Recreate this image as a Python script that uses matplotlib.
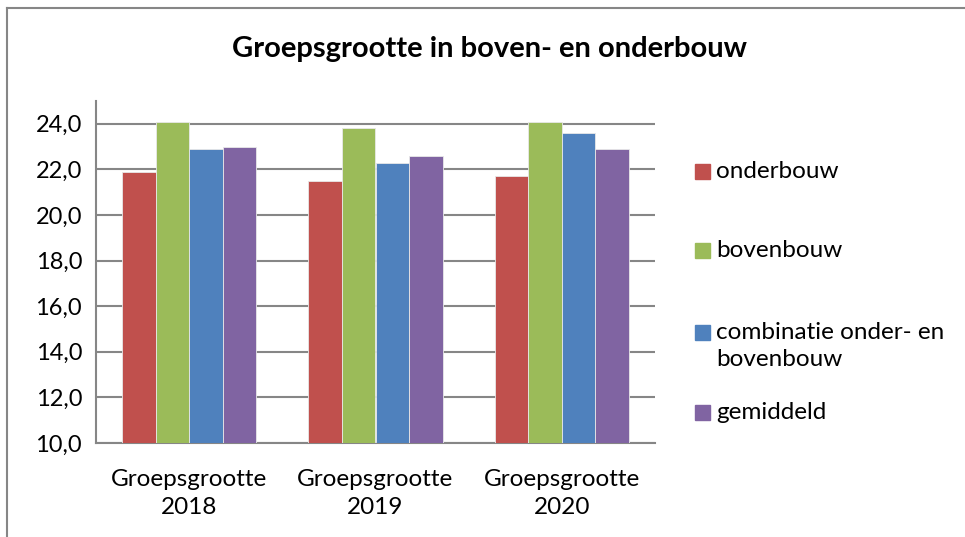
import matplotlib
matplotlib.use("Agg")
import matplotlib.pyplot as plt
from matplotlib.lines import Line2D
from matplotlib.patches import Rectangle
import numpy as np

# data
categories = ["Groepsgrootte\n2018", "Groepsgrootte\n2019", "Groepsgrootte\n2020"]
series_names = ["onderbouw", "bovenbouw", "combinatie onder- en\nbovenbouw", "gemiddeld"]
onderbouw = [21.9, 21.5, 21.7]
bovenbouw = [24.1, 23.8, 24.1]
combinatie = [22.9, 22.3, 23.6]
gemiddeld = [23.0, 22.6, 22.9]
series_values = [onderbouw, bovenbouw, combinatie, gemiddeld]
colors = ["#C0504D", "#9BBB59", "#4F81BD", "#8064A2"]
y_ticks = [10, 12, 14, 16, 18, 20, 22, 24]

plt.rcParams['font.family'] = ['Lato', 'DejaVu Sans']

W, H = 965, 537
fig = plt.figure(figsize=(W / 100, H / 100), dpi=100)
ax = fig.add_axes([96 / W, 1 - 443 / H, (655 - 96) / W, (443 - 101) / H])

x = np.arange(len(categories))
bw = 0.18
for i, (vals, c) in enumerate(zip(series_values, colors)):
    ax.bar(x + (i - 1.5) * bw, vals, width=bw, color=c, edgecolor="#e8e8e8",
           linewidth=0.6, zorder=3)

ax.set_ylim(10, 25)
ax.set_xlim(-0.5, len(categories) - 0.5)
ax.set_yticks(y_ticks)
ax.set_yticklabels([f"{v:.1f}".replace(".", ",") for v in y_ticks], fontsize=17)
ax.set_xticks(x)
ax.set_xticklabels(categories, fontsize=17.5, linespacing=1.4)
ax.tick_params(axis="y", length=0, pad=10)
ax.tick_params(axis="x", length=0, pad=19)
ax.yaxis.grid(True, color="#868686", linewidth=1.5, zorder=0)
for s in ["top", "right"]:
    ax.spines[s].set_visible(False)
for s in ["left", "bottom"]:
    ax.spines[s].set_color("#868686")
    ax.spines[s].set_linewidth(1.5)

# titel
fig.text(490 / W, 1 - 49 / H, "Groepsgrootte in boven- en onderbouw",
         ha="center", va="center", fontsize=21, fontweight="bold")

# legenda
leg_y = [171, 250, 332, 412]
for name, c, yy in zip(series_names, colors, leg_y):
    fig.patches.append(Rectangle((695 / W, 1 - (yy + 7.5) / H), 15 / W, 15 / H,
                                 transform=fig.transFigure, color=c, figure=fig))
    fig.text(716 / W, 1 - (yy - 10) / H, name, ha="left", va="top",
             fontsize=17.5, linespacing=1.35)

# rand
fig.add_artist(Line2D([6.5 / W, 1], [1 - 8 / H, 1 - 8 / H], color="#868686", lw=1.5))
fig.add_artist(Line2D([6.5 / W, 6.5 / W], [0, 1 - 8 / H], color="#868686", lw=1.5))

fig.savefig("out.png", dpi=100)
